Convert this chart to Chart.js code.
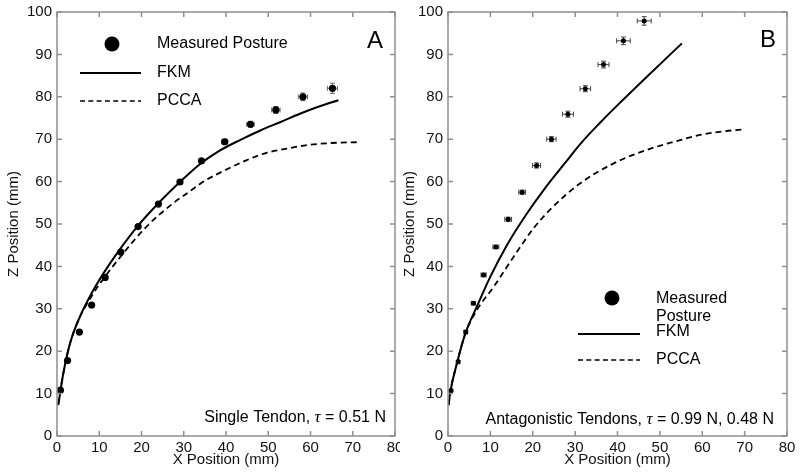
<!DOCTYPE html>
<html>
<head>
<meta charset="utf-8">
<script src="https://cdn.jsdelivr.net/npm/chart.js@4.4.0/dist/chart.umd.min.js"></script>
<style>
  html, body { margin: 0; padding: 0; background: #fff; }
  #wrap { position: relative; width: 800px; height: 475px; }
  .panel { position: absolute; top: 0; width: 400px; height: 475px; overflow: hidden; }
</style>
</head>
<body>
<div id="wrap">
  <div class="panel" style="left:0"><canvas id="chartA" width="400" height="475"></canvas></div>
  <div class="panel" style="left:400px"><canvas id="chartB" width="400" height="475"></canvas></div>
</div>
<script>
// ---------------------------------------------------------------------------
// Data (mm)
// ---------------------------------------------------------------------------

// Panel A - single tendon
const aMeasX = [0.8, 2.5, 5.3, 8.2, 11.4, 15.1, 19.2, 24.0, 29.1, 34.2, 39.7, 45.8, 51.8, 58.2, 65.2];
const aMeasZ = [10.8, 17.8, 24.5, 30.9, 37.4, 43.4, 49.4, 54.7, 59.9, 64.9, 69.4, 73.5, 76.9, 80.0, 82.0];
const aErrX = [0.3, 0.3, 0.3, 0.3, 0.3, 0.3, 0.4, 0.4, 0.5, 0.5, 0.7, 0.9, 1.0, 1.1, 1.2];
const aErrZ = [0.3, 0.3, 0.3, 0.3, 0.3, 0.3, 0.3, 0.4, 0.5, 0.5, 0.6, 0.7, 0.8, 0.9, 1.2];

const aFkmX = [0.3, 1.5, 3.1, 5.4, 8.6, 11.8, 15.0, 19.0, 24.0, 29.1, 33.8, 38.5, 43.3, 48.0, 52.8, 57.5, 62.0, 66.6];
const aFkmZ = [7.3, 14.8, 21.9, 28.1, 34.4, 39.6, 44.2, 49.4, 54.9, 59.9, 64.1, 67.3, 69.8, 72.0, 74.0, 76.0, 77.7, 79.2];

const aPccaX = [0.3, 1.5, 3.1, 5.4, 8.6, 10.2, 15.7, 21.2, 27.0, 31.0, 35.0, 39.8, 44.5, 49.6, 54.0, 59.1, 65.0, 71.5];
const aPccaZ = [7.5, 14.8, 21.9, 28.0, 33.6, 36.0, 43.1, 49.4, 54.5, 57.4, 60.2, 62.7, 64.9, 66.8, 67.7, 68.6, 69.1, 69.3];

// Panel B - antagonistic tendons
const bMeasX = [0.7, 2.4, 4.2, 6.0, 8.4, 11.3, 14.2, 17.5, 20.9, 24.4, 28.3, 32.4, 36.7, 41.4, 46.3];
const bMeasZ = [10.7, 17.5, 24.5, 31.3, 38.0, 44.6, 51.1, 57.5, 63.8, 70.0, 75.9, 81.9, 87.6, 93.2, 97.9];
const bErrX = [0.3, 0.3, 0.4, 0.5, 0.6, 0.7, 0.8, 0.8, 0.95, 1.1, 1.3, 1.25, 1.3, 1.6, 1.65];
const bErrZ = [0.3, 0.3, 0.3, 0.3, 0.4, 0.4, 0.5, 0.5, 0.6, 0.6, 0.7, 0.7, 0.8, 0.9, 1.0];

const bFkmX = [0.15, 0.5, 2.1, 4.1, 6.8, 10.0, 13.9, 18.5, 23.0, 27.3, 31.5, 36.0, 40.7, 47.0, 55.2];
const bFkmZ = [7.3, 10.1, 17.1, 24.2, 30.5, 37.6, 45.0, 52.3, 58.6, 64.0, 69.2, 74.0, 78.7, 84.8, 92.6];

const bPccaX = [0.15, 0.5, 2.1, 4.1, 6.8, 10.8, 15.5, 20.2, 24.5, 31.2, 39.1, 47.0, 54.8, 59.5, 64.5, 69.8];
const bPccaZ = [7.3, 10.1, 17.1, 24.2, 29.7, 35.2, 42.3, 49.0, 53.8, 59.6, 64.3, 67.5, 69.8, 71.0, 71.8, 72.3];

// Axis ranges
const xMin = 0, xMax = 80, xStep = 10;
const zMin = 0, zMax = 100, zStep = 10;

const SANS = '"Liberation Sans", Arial, Helvetica, sans-serif';
const SERIF = '"Liberation Serif", "DejaVu Serif", serif';

function toPoints(xs, ys) {
    return xs.map((x, i) => ({ x: x, y: ys[i] }));
}

// Gray box round the plot with inward tick marks on all four sides
const frameTicks = {
    id: 'frameTicks',
    afterDraw(chart) {
        const { ctx, chartArea: a, scales: { x, y } } = chart;
        ctx.save();
        ctx.strokeStyle = '#8f8f8f';
        ctx.lineWidth = 1.5;
        ctx.strokeRect(a.left, a.top, a.right - a.left, a.bottom - a.top);
        ctx.beginPath();
        x.ticks.forEach(t => {
            const px = x.getPixelForValue(t.value);
            ctx.moveTo(px, a.bottom); ctx.lineTo(px, a.bottom - 5);
            ctx.moveTo(px, a.top); ctx.lineTo(px, a.top + 5);
        });
        y.ticks.forEach(t => {
            const py = y.getPixelForValue(t.value);
            ctx.moveTo(a.left, py); ctx.lineTo(a.left + 5, py);
            ctx.moveTo(a.right, py); ctx.lineTo(a.right - 5, py);
        });
        ctx.stroke();
        ctx.restore();
    }
};

// Error bars for the measured postures (x and z)
const errorBars = {
    id: 'errorBars',
    beforeDatasetsDraw(chart, args, opts) {
        const { ctx, scales: { x, y } } = chart;
        const ds = chart.data.datasets[opts.datasetIndex];
        ctx.save();
        ctx.strokeStyle = opts.color;
        ctx.lineWidth = 1;
        ctx.beginPath();
        ds.data.forEach((p, i) => {
            const cx = x.getPixelForValue(p.x);
            const cy = y.getPixelForValue(p.y);
            const x0 = x.getPixelForValue(p.x - opts.errX[i]);
            const x1 = x.getPixelForValue(p.x + opts.errX[i]);
            const y0 = y.getPixelForValue(p.y - opts.errZ[i]);
            const y1 = y.getPixelForValue(p.y + opts.errZ[i]);
            const c = opts.cap;
            ctx.moveTo(x0, cy); ctx.lineTo(x1, cy);
            ctx.moveTo(x0, cy - c); ctx.lineTo(x0, cy + c);
            ctx.moveTo(x1, cy - c); ctx.lineTo(x1, cy + c);
            ctx.moveTo(cx, y0); ctx.lineTo(cx, y1);
            ctx.moveTo(cx - c, y0); ctx.lineTo(cx + c, y0);
            ctx.moveTo(cx - c, y1); ctx.lineTo(cx + c, y1);
        });
        ctx.stroke();
        ctx.restore();
    }
};

// Panel letter, in-plot legend and the load note
const panelDecor = {
    id: 'panelDecor',
    afterDraw(chart, args, opts) {
        const ctx = chart.ctx;
        ctx.save();
        ctx.fillStyle = '#000';
        ctx.strokeStyle = '#000';

        ctx.font = '24px ' + SANS;
        ctx.textAlign = 'right';
        ctx.textBaseline = 'middle';
        ctx.fillText(opts.letter, opts.letterX, opts.letterY);

        const lg = opts.legend;
        ctx.textAlign = 'left';
        ctx.font = '16px ' + SANS;
        ctx.beginPath();
        ctx.arc(lg.markX, lg.markY, 7.5, 0, 2 * Math.PI);
        ctx.fill();
        lg.markText.forEach((s, i) => ctx.fillText(s, lg.textX, lg.markTextY + i * 18));

        ctx.lineWidth = 2;
        ctx.beginPath();
        ctx.moveTo(lg.lineX0, lg.fkmY); ctx.lineTo(lg.lineX1, lg.fkmY);
        ctx.stroke();
        ctx.fillText('FKM', lg.textX, lg.fkmTextY);

        ctx.lineWidth = 1.5;
        ctx.setLineDash([5, 3.3]);
        ctx.beginPath();
        ctx.moveTo(lg.lineX0, lg.pccaY); ctx.lineTo(lg.lineX1, lg.pccaY);
        ctx.stroke();
        ctx.setLineDash([]);
        ctx.fillText('PCCA', lg.textX, lg.pccaY);

        // note, right aligned, with an italic tau
        const parts = [
            { s: opts.note[0], f: '16px ' + SANS },
            { s: '\u03C4', f: 'italic 17px ' + SERIF },
            { s: opts.note[1], f: '16px ' + SANS }
        ];
        let w = 0;
        parts.forEach(p => { ctx.font = p.f; w += ctx.measureText(p.s).width; });
        let xx = opts.noteX - w;
        parts.forEach(p => {
            ctx.font = p.f;
            ctx.fillText(p.s, xx, opts.noteY);
            xx += ctx.measureText(p.s).width;
        });
        ctx.restore();
    }
};

function makeChart(canvasId, meas, fkm, pcca, errs, cfg) {
    const ctx = document.getElementById(canvasId).getContext('2d');
    return new Chart(ctx, {
        type: 'scatter',
        data: {
            datasets: [
                {
                    label: 'PCCA',
                    data: pcca,
                    showLine: true,
                    borderColor: '#000',
                    borderWidth: 1.8,
                    borderDash: [6, 4],
                    pointRadius: 0,
                    cubicInterpolationMode: 'monotone',
                    fill: false
                },
                {
                    label: 'FKM',
                    data: fkm,
                    showLine: true,
                    borderColor: '#000',
                    borderWidth: 2,
                    pointRadius: 0,
                    cubicInterpolationMode: 'monotone',
                    fill: false
                },
                {
                    label: 'Measured Posture',
                    data: meas,
                    showLine: false,
                    pointRadius: cfg.dotRadius,
                    pointBackgroundColor: '#000',
                    pointBorderWidth: 0
                }
            ]
        },
        options: {
            responsive: false,
            animation: false,
            events: [],
            layout: { padding: { left: 0, right: cfg.padRight, top: 12, bottom: 0 } },
            plugins: {
                legend: { display: false },
                tooltip: { enabled: false },
                errorBars: { datasetIndex: 2, errX: errs[0], errZ: errs[1], cap: 2.5, color: cfg.errColor },
                panelDecor: cfg.decor
            },
            scales: {
                x: {
                    type: 'linear',
                    min: xMin, max: xMax,
                    afterFit: s => { s.height = 39; s.paddingLeft = 0; s.paddingRight = 0; },
                    ticks: { stepSize: xStep, color: '#111', padding: 3, font: { family: SANS, size: 15 } },
                    grid: { display: false, drawTicks: false, tickLength: 0 },
                    border: { display: false },
                    title: {
                        display: true, text: 'X Position (mm)', color: '#111',
                        font: { family: SANS, size: 15 }, padding: { top: 0, bottom: 6 }
                    }
                },
                y: {
                    type: 'linear',
                    min: zMin, max: zMax,
                    afterFit: s => { s.width = cfg.yWidth; s.paddingTop = 0; s.paddingBottom = 0; },
                    ticks: { stepSize: zStep, color: '#111', padding: 5, font: { family: SANS, size: 15 } },
                    grid: { display: false, drawTicks: false, tickLength: 0 },
                    border: { display: false },
                    title: {
                        display: true, text: 'Z Position (mm)', color: '#111',
                        font: { family: SANS, size: 15 }, padding: { top: cfg.yTitlePad, bottom: 0 }
                    }
                }
            }
        },
        plugins: [errorBars, frameTicks, panelDecor]
    });
}

makeChart('chartA',
    toPoints(aMeasX, aMeasZ), toPoints(aFkmX, aFkmZ), toPoints(aPccaX, aPccaZ), [aErrX, aErrZ],
    {
        padRight: 5, yWidth: 57, yTitlePad: 5, dotRadius: 3.6, errColor: '#6a6a6a',
        decor: {
            letter: 'A', letterX: 383, letterY: 41,
            legend: {
                markX: 112, markY: 44, textX: 157, markText: ['Measured Posture'], markTextY: 44,
                lineX0: 80, lineX1: 141, fkmY: 73, fkmTextY: 73, pccaY: 101
            },
            note: ['Single Tendon, ', ' = 0.51 N'], noteX: 386, noteY: 418
        }
    });

makeChart('chartB',
    toPoints(bMeasX, bMeasZ), toPoints(bFkmX, bFkmZ), toPoints(bPccaX, bPccaZ), [bErrX, bErrZ],
    {
        padRight: 13, yWidth: 48, yTitlePad: 1, dotRadius: 2.5, errColor: '#444',
        decor: {
            letter: 'B', letterX: 376, letterY: 40,
            legend: {
                markX: 212, markY: 298, textX: 256, markText: ['Measured', 'Posture'], markTextY: 299,
                lineX0: 178, lineX1: 240, fkmY: 334, fkmTextY: 332, pccaY: 360
            },
            note: ['Antagonistic Tendons, ', ' = 0.99 N, 0.48 N'], noteX: 374, noteY: 420
        }
    });
</script>
</body>
</html>
